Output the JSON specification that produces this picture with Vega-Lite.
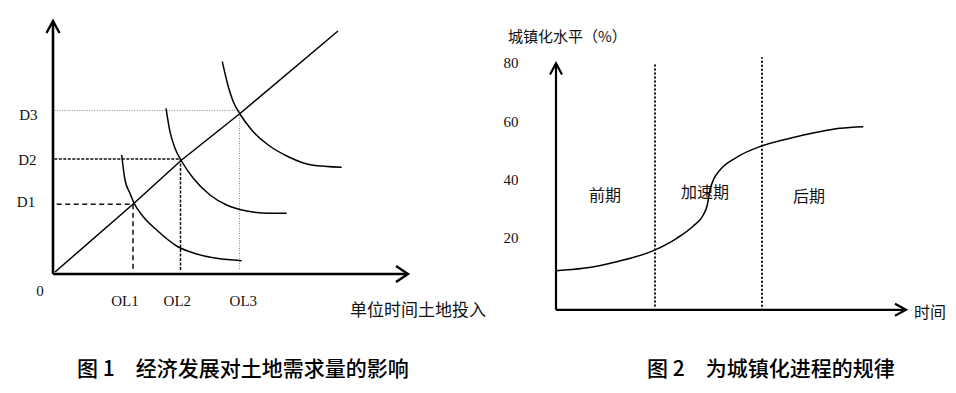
{
  "$schema": "https://vega.github.io/schema/vega-lite/v6.json",
  "padding": {"left": 0, "top": 0, "right": 0, "bottom": 12},
  "background": "white",
  "bounds": "flush",
  "spacing": 0,
  "config": {"view": {"stroke": null}},
  "datasets": {
    "p1_seg": [
      {"g": "axis", "x": 0, "y": 0, "x2": 0, "y2": 25.2},
      {"g": "axis", "x": 0, "y": 0, "x2": 35.4, "y2": 0},
      {"g": "d1", "x": 0.37, "y": 6.97, "x2": 8.0, "y2": 6.97},
      {"g": "d1", "x": 8.0, "y": 6.97, "x2": 8.0, "y2": 0.25},
      {"g": "d2", "x": 0.13, "y": 11.5, "x2": 12.75, "y2": 11.5},
      {"g": "d2", "x": 12.75, "y": 11.5, "x2": 12.75, "y2": 0.25},
      {"g": "d3", "x": 0.13, "y": 16.35, "x2": 18.65, "y2": 16.35},
      {"g": "d3", "x": 18.65, "y": 16.35, "x2": 18.65, "y2": 0.4}
    ],
    "p1_arrow": [
      {"a": "y", "o": 0, "x": -0.65, "y": 24.1},
      {"a": "y", "o": 1, "x": 0, "y": 25.3},
      {"a": "y", "o": 2, "x": 0.65, "y": 24.1},
      {"a": "x", "o": 0, "x": 34.3, "y": 0.8},
      {"a": "x", "o": 1, "x": 35.5, "y": 0},
      {"a": "x", "o": 2, "x": 34.3, "y": -0.8}
    ],
    "p1_diag": [
      {"x": 0.2, "y": 0.2},
      {"x": 8.05, "y": 7.02},
      {"x": 12.8, "y": 11.35},
      {"x": 18.7, "y": 16.05},
      {"x": 28.5, "y": 24.3}
    ],
    "p1_curve": [
      {"c": "L1", "x": 6.87, "y": 11.9},
      {"c": "L1", "x": 7.2, "y": 9.4},
      {"c": "L1", "x": 7.7, "y": 8.07},
      {"c": "L1", "x": 8.1, "y": 7.1},
      {"c": "L1", "x": 9.03, "y": 5.73},
      {"c": "L1", "x": 10.37, "y": 4.4},
      {"c": "L1", "x": 12.37, "y": 2.8},
      {"c": "L1", "x": 14.37, "y": 2.0},
      {"c": "L1", "x": 16.37, "y": 1.57},
      {"c": "L1", "x": 18.87, "y": 1.33},
      {"c": "L2", "x": 11.3, "y": 16.57},
      {"c": "L2", "x": 11.7, "y": 14.23},
      {"c": "L2", "x": 12.2, "y": 12.57},
      {"c": "L2", "x": 12.85, "y": 11.3},
      {"c": "L2", "x": 14.03, "y": 9.57},
      {"c": "L2", "x": 15.7, "y": 7.9},
      {"c": "L2", "x": 17.37, "y": 6.9},
      {"c": "L2", "x": 19.37, "y": 6.3},
      {"c": "L2", "x": 21.7, "y": 6.07},
      {"c": "L2", "x": 23.37, "y": 6.07},
      {"c": "L3", "x": 16.93, "y": 21.23},
      {"c": "L3", "x": 17.53, "y": 18.73},
      {"c": "L3", "x": 18.03, "y": 17.23},
      {"c": "L3", "x": 18.7, "y": 16.0},
      {"c": "L3", "x": 19.87, "y": 14.4},
      {"c": "L3", "x": 21.53, "y": 12.9},
      {"c": "L3", "x": 23.53, "y": 11.73},
      {"c": "L3", "x": 25.87, "y": 10.9},
      {"c": "L3", "x": 28.87, "y": 10.67}
    ],
    "p1_lab": [
      {"label": "D3", "x": -2.47, "y": 15.9},
      {"label": "D2", "x": -2.57, "y": 11.4},
      {"label": "D1", "x": -2.7, "y": 7.17},
      {"label": "0", "x": -1.3, "y": -1.7},
      {"label": "OL1", "x": 7.2, "y": -2.7},
      {"label": "OL2", "x": 12.43, "y": -2.7},
      {"label": "OL3", "x": 19.03, "y": -2.7}
    ],
    "p1_title": [
      {"label": "单位时间土地投入", "x": 29.7, "y": -3.7}
    ],
    "p2_seg": [
      {"g": "axis", "x": 0, "y": -4.5, "x2": 0, "y2": 79.8},
      {"g": "axis", "x": 0, "y": -4.5, "x2": 34.9, "y2": -4.5},
      {"g": "dot", "x": 9.9, "y": -3.4, "x2": 9.9, "y2": 80},
      {"g": "dot", "x": 20.6, "y": -4.8, "x2": 20.6, "y2": 82.1}
    ],
    "p2_arrow": [
      {"a": "y", "o": 0, "x": -0.6, "y": 76.2},
      {"a": "y", "o": 1, "x": 0, "y": 80},
      {"a": "y", "o": 2, "x": 0.6, "y": 76.2},
      {"a": "x", "o": 0, "x": 33.9, "y": -2.44},
      {"a": "x", "o": 1, "x": 35.0, "y": -4.5},
      {"a": "x", "o": 2, "x": 33.9, "y": -6.56}
    ],
    "p2_curve": [
      {"x": 0, "y": 8.9},
      {"x": 2.73, "y": 9.74},
      {"x": 6.07, "y": 12.0},
      {"x": 9.73, "y": 15.77},
      {"x": 12.07, "y": 20.02},
      {"x": 13.73, "y": 24.24},
      {"x": 14.73, "y": 28.01},
      {"x": 15.13, "y": 31.44},
      {"x": 15.4, "y": 36.58},
      {"x": 15.73, "y": 40.01},
      {"x": 16.4, "y": 43.44},
      {"x": 18.07, "y": 47.79},
      {"x": 20.57, "y": 51.67},
      {"x": 23.4, "y": 54.31},
      {"x": 26.07, "y": 56.37},
      {"x": 28.4, "y": 57.74},
      {"x": 30.73, "y": 58.29}
    ],
    "p2_tick": [
      {"label": "80", "x": -4.5, "y": 80},
      {"label": "60", "x": -4.5, "y": 60},
      {"label": "40", "x": -4.5, "y": 40},
      {"label": "20", "x": -4.5, "y": 20}
    ],
    "p2_phase": [
      {"label": "前期", "x": 4.9, "y": 34.5},
      {"label": "加速期", "x": 14.9, "y": 35.6},
      {"label": "后期", "x": 25.3, "y": 34.2},
      {"label": "时间", "x": 37.4, "y": -5.6}
    ],
    "p2_ytitle": [
      {"label": "城镇化水平（%）", "x": -4.8, "y": 89.0}
    ]
  },
  "hconcat": [
    {
      "width": 478,
      "height": 330,
      "title": {
        "text": "图 1　经济发展对土地需求量的影响",
        "orient": "bottom",
        "anchor": "start",
        "frame": "group",
        "dx": 77,
        "offset": 29,
        "font": "Noto Sans CJK SC",
        "fontSize": 21,
        "fontWeight": 500,
        "color": "#000"
      },
      "encoding": {
        "x": {"field": "x", "type": "quantitative", "scale": {"domain": [-5.3, 42.5], "nice": false, "zero": false}, "axis": null},
        "y": {"field": "y", "type": "quantitative", "scale": {"domain": [-5.6, 27.4], "nice": false, "zero": false}, "axis": null}
      },
      "layer": [
        {
          "data": {"name": "p1_seg"},
          "transform": [{"filter": "datum.g == 'd3'"}],
          "mark": {"type": "rule", "strokeWidth": 1, "color": "#8a8a8a", "strokeDash": [1, 1.5]},
          "encoding": {"x2": {"field": "x2"}, "y2": {"field": "y2"}}
        },
        {
          "data": {"name": "p1_seg"},
          "transform": [{"filter": "datum.g == 'd2'"}],
          "mark": {"type": "rule", "strokeWidth": 1.5, "color": "#111", "strokeDash": [3, 1.5]},
          "encoding": {"x2": {"field": "x2"}, "y2": {"field": "y2"}}
        },
        {
          "data": {"name": "p1_seg"},
          "transform": [{"filter": "datum.g == 'd1'"}],
          "mark": {"type": "rule", "strokeWidth": 1.5, "color": "#111", "strokeDash": [5, 3.5]},
          "encoding": {"x2": {"field": "x2"}, "y2": {"field": "y2"}}
        },
        {
          "data": {"name": "p1_seg"},
          "transform": [{"filter": "datum.g == 'axis'"}],
          "mark": {"type": "rule", "strokeWidth": 2.6, "color": "#000"},
          "encoding": {"x2": {"field": "x2"}, "y2": {"field": "y2"}}
        },
        {
          "data": {"name": "p1_arrow"},
          "mark": {"type": "line", "strokeWidth": 2.4, "color": "#000", "strokeJoin": "miter"},
          "encoding": {"detail": {"field": "a"}, "order": {"field": "o"}}
        },
        {
          "data": {"name": "p1_diag"},
          "mark": {"type": "line", "strokeWidth": 1.5, "color": "#000"}
        },
        {
          "data": {"name": "p1_curve"},
          "mark": {"type": "line", "interpolate": "monotone", "strokeWidth": 1.5, "color": "#000"},
          "encoding": {"detail": {"field": "c"}}
        },
        {
          "data": {"name": "p1_lab"},
          "mark": {"type": "text", "font": "Liberation Serif", "fontSize": 15, "color": "#111"},
          "encoding": {"text": {"field": "label"}}
        },
        {
          "data": {"name": "p1_title"},
          "mark": {"type": "text", "font": "Noto Sans CJK SC", "fontSize": 17, "align": "left", "color": "#111"},
          "encoding": {"text": {"field": "label"}}
        }
      ]
    },
    {
      "width": 478,
      "height": 330,
      "title": {
        "text": "图 2　为城镇化进程的规律",
        "orient": "bottom",
        "anchor": "start",
        "frame": "group",
        "dx": 169,
        "offset": 29,
        "font": "Noto Sans CJK SC",
        "fontSize": 21,
        "fontWeight": 500,
        "color": "#000"
      },
      "encoding": {
        "x": {"field": "x", "type": "quantitative", "scale": {"domain": [-7.8, 40.0], "nice": false, "zero": false}, "axis": null},
        "y": {"field": "y", "type": "quantitative", "scale": {"domain": [-11.43, 101.71], "nice": false, "zero": false}, "axis": null}
      },
      "layer": [
        {
          "data": {"name": "p2_seg"},
          "transform": [{"filter": "datum.g == 'dot'"}],
          "mark": {"type": "rule", "strokeWidth": 2, "color": "#111", "strokeDash": [2, 2]},
          "encoding": {"x2": {"field": "x2"}, "y2": {"field": "y2"}}
        },
        {
          "data": {"name": "p2_seg"},
          "transform": [{"filter": "datum.g == 'axis'"}],
          "mark": {"type": "rule", "strokeWidth": 2.2, "color": "#000"},
          "encoding": {"x2": {"field": "x2"}, "y2": {"field": "y2"}}
        },
        {
          "data": {"name": "p2_arrow"},
          "mark": {"type": "line", "strokeWidth": 2.2, "color": "#000", "strokeJoin": "miter"},
          "encoding": {"detail": {"field": "a"}, "order": {"field": "o"}}
        },
        {
          "data": {"name": "p2_curve"},
          "mark": {"type": "line", "interpolate": "monotone", "strokeWidth": 1.5, "color": "#000"}
        },
        {
          "data": {"name": "p2_tick"},
          "mark": {"type": "text", "font": "Liberation Serif", "fontSize": 15, "color": "#111"},
          "encoding": {"text": {"field": "label"}}
        },
        {
          "data": {"name": "p2_phase"},
          "mark": {"type": "text", "font": "Noto Sans CJK SC", "fontSize": 16, "color": "#111"},
          "encoding": {"text": {"field": "label"}}
        },
        {
          "data": {"name": "p2_ytitle"},
          "mark": {"type": "text", "font": "Noto Sans CJK SC", "fontSize": 15, "align": "left", "color": "#111"},
          "encoding": {"text": {"field": "label"}}
        }
      ]
    }
  ]
}
